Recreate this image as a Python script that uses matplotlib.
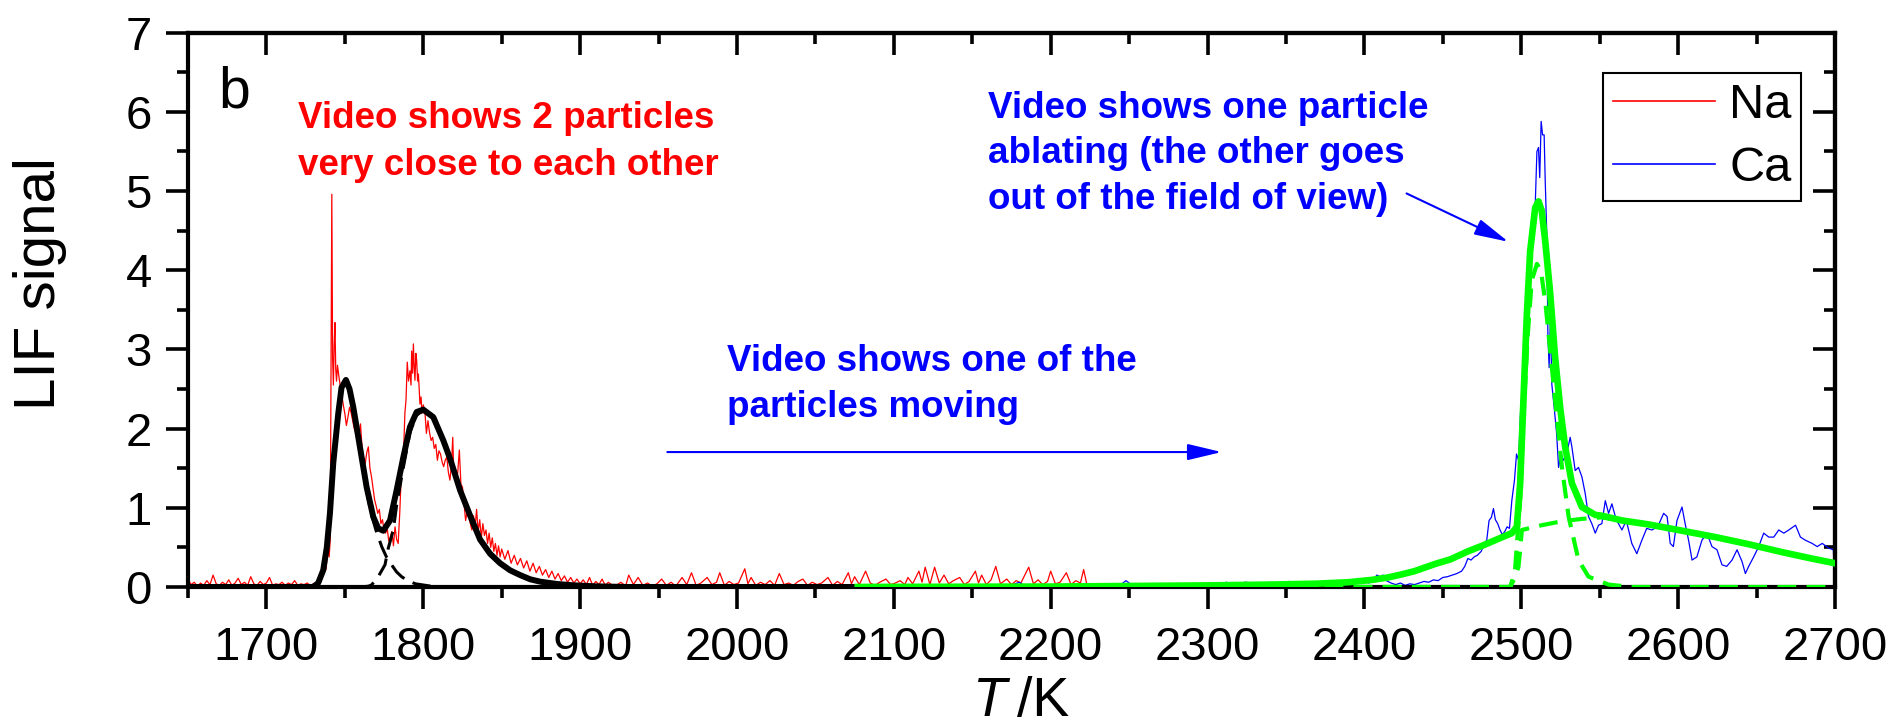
import matplotlib
matplotlib.use("Agg")
import matplotlib.pyplot as plt
from matplotlib.ticker import MultipleLocator, NullFormatter
from matplotlib.patches import FancyArrowPatch, ArrowStyle

plt.rcParams['font.family'] = ['Liberation Sans', 'DejaVu Sans']

# ---------------- Na LIF trace ----------------
na_T = [
    1650, 1652, 1654, 1656, 1658, 1660, 1662, 1664, 1666, 1668, 1670, 1672, 1674, 1676,
    1678, 1680, 1682, 1684, 1686, 1688, 1690, 1692, 1694, 1696, 1698, 1700, 1702, 1704,
    1706, 1708, 1710, 1712, 1714, 1716, 1718, 1720, 1722, 1724, 1726, 1728, 1730, 1732, 1734,
    1735, 1736, 1737, 1738, 1739, 1740, 1740.7, 1741.2, 1741.7, 1742.2, 1742.7, 1743.2,
    1743.7, 1744.2, 1744.7, 1745.3, 1746, 1747, 1748, 1749, 1750, 1751, 1752, 1753, 1754,
    1755, 1756, 1757, 1758, 1759, 1760, 1761, 1762, 1763, 1764, 1765, 1766, 1767, 1768,
    1769, 1770, 1771, 1772, 1773, 1774, 1775, 1776, 1777, 1778, 1779, 1780, 1781, 1782,
    1783, 1784, 1785, 1786, 1787, 1787.7, 1788.3, 1789, 1789.8, 1790.6, 1791.5, 1792.2,
    1792.6, 1793.2, 1793.7, 1794.2, 1794.7, 1795.3, 1795.8, 1796.4, 1796.9, 1797.5, 1797.9,
    1798.6, 1799.2, 1800, 1801, 1802, 1803, 1804, 1805, 1806, 1807, 1808, 1809, 1810, 1811,
    1812, 1813, 1814, 1815, 1816, 1817, 1818, 1818.8, 1819.5, 1820.3, 1821, 1822, 1823,
    1824, 1825, 1826, 1827, 1828, 1829, 1830,
    1831, 1832, 1833, 1834, 1835, 1836, 1837, 1838, 1839, 1840, 1841, 1842, 1843, 1844,
    1845, 1846, 1847, 1848, 1849, 1850, 1852, 1854, 1856, 1858, 1860, 1862, 1864, 1866,
    1868, 1870, 1872, 1874, 1876, 1878, 1880, 1882, 1884, 1886, 1888, 1890, 1892, 1894,
    1896, 1898, 1900, 1902, 1904, 1906, 1908, 1910, 1912, 1914, 1916, 1918, 1920,
    1923, 1926, 1929, 1931, 1934, 1937, 1940, 1943, 1946, 1949, 1952, 1955, 1958, 1961,
    1965, 1968, 1971, 1974, 1977, 1981, 1984, 1987, 1989, 1992, 1995, 1998, 2001, 2005,
    2007, 2009, 2012, 2015, 2018, 2021, 2024, 2027, 2030, 2033, 2036, 2039, 2042, 2045,
    2048, 2051, 2054, 2058, 2061, 2064, 2067, 2071, 2073, 2075, 2078, 2082, 2085, 2088,
    2091, 2095, 2098, 2101, 2104, 2107, 2109, 2112, 2116, 2118, 2120, 2123, 2126, 2129,
    2132, 2135, 2138, 2142, 2145, 2148, 2152, 2154, 2156, 2159, 2162, 2165, 2168, 2172,
    2175, 2178, 2181, 2186, 2189, 2192, 2195, 2198, 2200, 2203, 2206, 2210, 2213, 2216,
    2219, 2221, 2223, 2225,
]
na_lif = [
    0.10, 0.03, 0.06, 0.01, 0.05, 0.02, 0.08, 0.03, 0.15, 0.04, 0.02, 0.06, 0.03, 0.09,
    0.02, 0.05, 0.11, 0.03, 0.06, 0.02, 0.13, 0.04, 0.02, 0.07, 0.03, 0.05, 0.12, 0.02,
    0.04, 0.03, 0.06, 0.02, 0.05, 0.03, 0.08, 0.02, 0.04, 0.03, 0.05, 0.02, 0.04, 0.03, 0.06,
    0.08, 0.15, 0.30, 0.22, 0.45, 0.38, 0.60, 2.80, 4.96, 2.90, 2.55, 3.05,
    3.34, 2.75, 2.60, 2.80, 2.69, 2.55, 2.44, 2.30, 2.19, 2.04, 2.15, 2.27, 2.20,
    2.10, 2.00, 1.94, 1.85, 1.90, 2.06, 1.75, 1.62, 1.56, 1.70, 1.77, 1.50, 1.39, 1.25,
    1.10, 1.02, 0.93, 0.98, 0.80, 0.85, 0.72, 0.68, 0.74, 0.58, 0.63, 0.70, 0.52, 0.76,
    0.60, 0.55, 0.93, 1.43, 1.60, 1.85, 2.20, 2.36, 2.84, 2.60, 2.73, 2.55,
    2.98, 2.70, 3.07, 2.80, 2.61, 2.95, 2.86, 2.60, 2.69, 2.45, 2.31,
    2.40, 2.19, 2.30, 2.23, 1.94, 2.10, 1.95, 1.85, 1.89, 1.75, 1.80, 1.60, 1.72, 1.68,
    1.58, 1.52, 1.60, 1.64, 1.45, 1.35, 1.55, 1.89, 1.40, 1.47, 1.30, 1.45, 1.73,
    1.30, 1.26, 1.05, 0.84, 0.95, 0.93, 0.80,
    0.72, 0.90, 0.75, 0.98, 0.70, 0.85, 0.62, 0.80, 0.65, 0.72, 0.55, 0.68, 0.50, 0.62,
    0.45, 0.55, 0.40, 0.52, 0.38, 0.48, 0.35, 0.46, 0.30, 0.40, 0.28, 0.36, 0.24, 0.33,
    0.20, 0.30, 0.18, 0.26, 0.15, 0.22, 0.12, 0.20, 0.10, 0.17, 0.08, 0.14, 0.06, 0.12,
    0.05, 0.10, 0.04, 0.09, 0.03, 0.12, 0.02, 0.07, 0.03, 0.10, 0.02, 0.06, 0.03,
    0.02, 0.06, 0.01, 0.15, 0.03, 0.12, 0.02, 0.05, 0.01, 0.04, 0.10, 0.02, 0.06, 0.01,
    0.12, 0.03, 0.18, 0.02, 0.05, 0.12, 0.03, 0.06, 0.18, 0.02, 0.07, 0.03, 0.05, 0.23,
    0.04, 0.12, 0.02, 0.06, 0.03, 0.08, 0.02, 0.17, 0.03, 0.05, 0.02, 0.07, 0.10, 0.02,
    0.06, 0.03, 0.05, 0.12, 0.02, 0.07, 0.03, 0.18, 0.04, 0.13, 0.03, 0.20, 0.05, 0.02,
    0.06, 0.10, 0.03, 0.05, 0.08, 0.03, 0.12, 0.04, 0.20, 0.06, 0.25, 0.03, 0.25, 0.05,
    0.15, 0.04, 0.08, 0.12, 0.03, 0.07, 0.20, 0.05, 0.15, 0.03, 0.09, 0.26, 0.04, 0.10,
    0.03, 0.08, 0.05, 0.25, 0.04, 0.09, 0.03, 0.07, 0.20, 0.04, 0.06, 0.18, 0.03, 0.08,
    0.05, 0.22, 0.04, 0.02,
]

# ---------------- Ca LIF trace ----------------
ca_T = [
    2176, 2180, 2184, 2188, 2192, 2196, 2200, 2204, 2208, 2212, 2216, 2220, 2224, 2228,
    2232, 2236, 2240, 2244, 2248, 2252, 2256, 2260, 2264, 2268, 2272, 2276, 2280, 2284,
    2288, 2292, 2296, 2300, 2304, 2308, 2312, 2316, 2320, 2324, 2328, 2332, 2336, 2340,
    2344, 2348, 2352, 2356, 2360, 2364, 2368, 2372, 2376, 2380, 2384, 2388, 2392, 2396,
    2400, 2403, 2406, 2408, 2410, 2412, 2414, 2417, 2420, 2423, 2426, 2429, 2432, 2435,
    2438, 2441, 2444, 2447, 2450, 2453, 2456, 2459, 2462, 2464, 2466, 2468, 2470, 2472,
    2474.5, 2476.5, 2478, 2479.5, 2481, 2482.3, 2483.5, 2485, 2486.5, 2488, 2489.5, 2491,
    2492.5, 2494, 2495.7, 2497, 2498.3, 2499.7, 2501, 2502.5, 2504, 2506, 2508, 2509, 2510,
    2511, 2511.8, 2512.7, 2513.6, 2514.6, 2515.3, 2516.3, 2517, 2517.8, 2518.6, 2519.5,
    2521, 2522.6, 2523.8, 2525.4, 2527, 2529, 2531.2, 2532.3, 2534.4, 2536.5, 2538.7,
    2540.8, 2542.9, 2545, 2547.2, 2549.3, 2551.4, 2553.6, 2555.7, 2557.8, 2560, 2562,
    2564.2, 2567, 2570.5, 2573.7, 2576.9, 2580, 2583.3, 2587, 2590.8, 2593, 2595, 2597,
    2599.3, 2602.5, 2604.5, 2606.7, 2608.9, 2612, 2615.2, 2618.4, 2621.6, 2624.8, 2628,
    2631, 2634.4, 2637.6, 2640.8, 2642.9, 2645, 2648.2, 2651.4, 2654.6, 2657.8, 2661,
    2664.2, 2667.4, 2670.6, 2674.9, 2678, 2681.2, 2685.5, 2688.7, 2691.9, 2696.1, 2699,
    2700,
]
ca_lif = [
    0.03, 0.06, 0.01, 0.02, 0.00, 0.01, 0.02, 0.00, 0.03, 0.01, 0.00, 0.02, 0.01, 0.00,
    0.02, 0.03, 0.01, 0.02, 0.08, 0.02, 0.01, 0.03, 0.02, 0.01, 0.02, 0.00, 0.01, 0.02,
    0.01, 0.03, 0.02, 0.05, 0.03, 0.02, 0.06, 0.03, 0.04, 0.06, 0.05, 0.02, 0.04, 0.06,
    0.03, 0.04, 0.07, 0.03, 0.05, 0.06, 0.04, 0.05, 0.06, 0.07, 0.05, 0.06, 0.08, 0.06,
    0.07, 0.05, 0.10, 0.15, 0.13, 0.15, 0.08, 0.05, 0.03, 0.05, 0.02, 0.04, 0.03, 0.05,
    0.07, 0.06, 0.09, 0.08, 0.12, 0.13, 0.15, 0.17, 0.20, 0.26, 0.36, 0.34, 0.38, 0.40,
    0.45, 0.55, 0.59, 0.84, 0.88, 0.99, 0.85, 0.80, 0.72, 0.66, 0.70, 0.76,
    0.74, 1.09, 1.35, 1.68, 1.60, 2.27, 2.52, 2.69, 3.19, 3.95, 4.60, 4.87, 5.50,
    5.55, 5.17, 5.88, 5.71, 5.71, 5.13, 4.45, 3.19, 2.77, 3.40, 2.56,
    2.27, 1.93, 1.51, 1.68, 1.60, 1.68, 1.89, 1.77, 1.47, 1.51, 1.39,
    1.18, 0.89, 0.80, 0.68, 0.78, 0.80, 1.09, 0.93, 1.05, 0.89, 0.80,
    0.72, 0.84, 0.55, 0.42, 0.59, 0.74, 0.72, 0.76, 0.93, 0.89, 0.55, 0.51,
    0.84, 1.01, 0.80, 0.59, 0.34, 0.38, 0.59, 0.68, 0.51, 0.47, 0.28,
    0.26, 0.34, 0.47, 0.32, 0.17, 0.26, 0.38, 0.51, 0.68, 0.63, 0.63,
    0.72, 0.68, 0.72, 0.78, 0.63, 0.59, 0.55, 0.51, 0.55, 0.49, 0.47,
    0.00,
]

# ---------------- Na two-peak fit (sum and components) ----------------
na_fit_T = [1650, 1725, 1729.8, 1733, 1736.2, 1738.5, 1740.5, 1742.6, 1745.8, 1747.9,
            1750.7, 1753, 1755.4, 1759.6, 1763.9, 1768.1, 1771.3, 1774.5, 1778.8, 1783,
            1787.3, 1791.5, 1795.8, 1800, 1806.4, 1812.8, 1817.1, 1823.5, 1829.9, 1836.2,
            1842.6, 1849, 1855.4, 1861.8, 1868.2, 1874.6, 1885.2, 1895.8, 1910, 1930, 2077]
na_fit = [0.0, 0.0, 0.0, 0.05, 0.21, 0.50, 0.93, 1.56, 2.19, 2.52,
          2.615, 2.50, 2.27, 1.77, 1.26, 0.887, 0.74, 0.71, 0.84, 1.22,
          1.64, 2.02, 2.21, 2.24, 2.145, 1.85, 1.62, 1.22, 0.90, 0.60,
          0.42, 0.30, 0.21, 0.15, 0.097, 0.067, 0.038, 0.021, 0.008, 0.0, 0.0]

na_peak1_T = [1725, 1729.8, 1733, 1736.2, 1738.5, 1740.5, 1742.6, 1745.8, 1747.9, 1750.7,
              1753, 1755.4, 1759.6, 1763.9, 1766.5, 1769.8, 1773.5, 1776.5, 1779.8, 1783,
              1786.2, 1790, 1795, 1805, 1820, 2077]
na_peak1 = [0.0, 0.0, 0.05, 0.21, 0.50, 0.93, 1.56, 2.19, 2.52, 2.615,
            2.50, 2.27, 1.77, 1.22, 0.95, 0.72, 0.51, 0.38, 0.28, 0.19,
            0.13, 0.08, 0.04, 0.01, 0.0, 0.0]

na_peak2_T = [1740, 1760, 1765, 1767, 1771, 1775.6, 1777.7, 1780.9, 1783, 1787.3,
              1791.5, 1795.8, 1800, 1806.4, 1812.8, 1817.1, 1823.5, 1829.9, 1836.2, 1842.6,
              1849, 1855.4, 1861.8, 1868.2, 1874.6, 1885.2, 1895.8, 1910, 1930, 2077]
na_peak2 = [0.0, 0.0, 0.01, 0.025, 0.12, 0.28, 0.49, 0.72, 1.03, 1.51,
            1.95, 2.17, 2.23, 2.145, 1.85, 1.62, 1.22, 0.90, 0.60, 0.42,
            0.30, 0.21, 0.15, 0.097, 0.067, 0.038, 0.021, 0.008, 0.0, 0.0]

# ---------------- Ca fit (sum and components) ----------------
ca_fit_T = [2077, 2200, 2300, 2340, 2370, 2390, 2405, 2415, 2424, 2432, 2445, 2455, 2466,
            2475, 2488, 2494, 2497.2, 2499.3, 2501.4, 2503.5, 2505.7, 2508.9, 2511, 2513.1,
            2515.3, 2518.5, 2521.6, 2524.8, 2528, 2532.3, 2538.7, 2547.2, 2551.4, 2564.2,
            2581.2, 2600, 2623.8, 2645, 2666.3, 2685, 2700]
ca_fit = [0.0, 0.005, 0.02, 0.03, 0.042, 0.06, 0.09, 0.12, 0.16, 0.20, 0.29, 0.35, 0.45,
          0.52, 0.63, 0.68, 0.76, 1.30, 2.35, 3.40, 4.24, 4.79, 4.87, 4.75,
          4.37, 3.70, 2.90, 2.27, 1.77, 1.31, 1.01, 0.91, 0.90, 0.84,
          0.79, 0.72, 0.63, 0.54, 0.44, 0.36, 0.30]

ca_narrow_T = [2077, 2493, 2496, 2499.3, 2501.4, 2504.2, 2506.7, 2510, 2512.5, 2515.3,
               2518.5, 2521.6, 2525.9, 2530.2, 2536.5, 2542.9, 2555.7, 2570, 2700]
ca_narrow = [0.0, 0.0, 0.2, 1.10, 2.15, 3.19, 3.87, 4.08, 4.00, 3.61,
             2.98, 2.36, 1.52, 0.89, 0.34, 0.13, 0.03, 0.0, 0.0]

ca_broad_T = [2077, 2493, 2496, 2498.2, 2499.5, 2500.4, 2513, 2526, 2538.7, 2551.4,
              2564.2, 2581.2, 2600, 2623.8, 2645, 2666.3, 2685, 2700]
ca_broad = [0.0, 0.0, 0.12, 0.25, 0.50, 0.72, 0.78, 0.83, 0.86, 0.88,
            0.84, 0.79, 0.72, 0.63, 0.54, 0.44, 0.36, 0.30]

x_major_ticks = [1700, 1800, 1900, 2000, 2100, 2200, 2300, 2400, 2500, 2600, 2700]
y_major_ticks = [0, 1, 2, 3, 4, 5, 6, 7]

RED = '#ff0000'
BLUE = '#0000ff'
GREEN = '#00ff00'

fig = plt.figure(figsize=(18.95, 7.27), dpi=100)
ax = fig.add_axes([0.0992, 0.1926, 0.8691, 0.7624])

na_line, = ax.plot(na_T, na_lif, color=RED, lw=0.9, label='Na', zorder=2)
ca_line, = ax.plot(ca_T, ca_lif, color=BLUE, lw=0.9, label='Ca', zorder=2)

ax.plot(na_peak1_T, na_peak1, color='k', lw=2.2, dashes=(6, 3), zorder=3)
ax.plot(na_peak2_T, na_peak2, color='k', lw=2.2, dashes=(6, 3), zorder=3)
ax.plot(na_fit_T, na_fit, color='k', lw=4.3, zorder=4, solid_joinstyle='round')

ax.plot(ca_fit_T, ca_fit, color=GREEN, lw=4.8, zorder=4, solid_joinstyle='round')
ax.plot(ca_narrow_T, ca_narrow, color=GREEN, lw=3.0, dashes=(4.5, 2.5), zorder=5)
ax.plot(ca_broad_T, ca_broad, color=GREEN, lw=3.0, dashes=(4.5, 2.5), zorder=5)

ax.set_xlim(1650, 2700)
ax.set_ylim(0, 7)

ax.set_xticks(x_major_ticks)
ax.set_yticks(y_major_ticks)
ax.xaxis.set_minor_locator(MultipleLocator(50))
ax.yaxis.set_minor_locator(MultipleLocator(0.5))
ax.tick_params(which='major', direction='out', length=16, width=2.6, labelsize=34, pad=12)
ax.tick_params(which='minor', direction='out', length=8, width=2.6)
ax.tick_params(axis='y', which='major', pad=10)
for sp in ax.spines.values():
    sp.set_linewidth(3)

# mirrored inward ticks on top and right
secx = ax.secondary_xaxis('top')
secx.set_xticks(x_major_ticks)
secx.xaxis.set_minor_locator(MultipleLocator(50))
secx.xaxis.set_major_formatter(NullFormatter())
secx.tick_params(which='major', direction='in', length=16, width=2.6)
secx.tick_params(which='minor', direction='in', length=8, width=2.6)
secx.spines['top'].set_linewidth(3)

secy = ax.secondary_yaxis('right')
secy.set_yticks(y_major_ticks)
secy.yaxis.set_minor_locator(MultipleLocator(0.5))
secy.yaxis.set_major_formatter(NullFormatter())
secy.tick_params(which='major', direction='in', length=16, width=2.6)
secy.tick_params(which='minor', direction='in', length=8, width=2.6)
secy.spines['right'].set_linewidth(3)

# axis titles
fig.text(40 / 1895, 1 - 284 / 727, 'LIF signal', rotation=90, ha='center', va='center',
         fontsize=42)
fig.text(1006 / 1895, 1 - 716 / 727, 'T', fontstyle='italic', ha='right', va='baseline',
         fontsize=40)
fig.text(1017 / 1895, 1 - 716 / 727, '/K', ha='left', va='baseline', fontsize=40)

# panel letter
ax.text(1669.5, 6.05, 'b', fontsize=41, va='baseline', ha='left')

# annotations
bold = dict(fontsize=26.5, fontweight='bold', va='baseline', ha='left')
ax.text(1720.2, 5.793, 'Video shows 2 particles', color=RED, **bold)
ax.text(1720.2, 5.20, 'very close to each other', color=RED, **bold)

ax.text(1993.7, 2.733, 'Video shows one of the', color=BLUE, **bold)
ax.text(1993.7, 2.145, 'particles moving', color=BLUE, **bold)

ax.text(2160.1, 5.923, 'Video shows one particle', color=BLUE, **bold)
ax.text(2160.1, 5.357, 'ablating (the other goes', color=BLUE, **bold)
ax.text(2160.1, 4.77, 'out of the field of view)', color=BLUE, **bold)

head = ArrowStyle('-|>', head_length=1.05, head_width=0.25)
ax.add_patch(FancyArrowPatch((1955.6, 1.704), (2309, 1.704), arrowstyle=head,
                             mutation_scale=20, color=BLUE, lw=1.5,
                             shrinkA=0, shrinkB=0, zorder=6))
ax.add_patch(FancyArrowPatch((2426.9, 4.97), (2491.8, 4.36), arrowstyle=head,
                             mutation_scale=20, color=BLUE, lw=1.5,
                             shrinkA=0, shrinkB=0, zorder=6))

leg = ax.legend(handles=[na_line, ca_line], loc='upper left',
                bbox_to_anchor=(1603 / 1895, 1 - 73 / 727), bbox_transform=fig.transFigure,
                fontsize=35, frameon=True, fancybox=False, framealpha=1,
                edgecolor='black', borderpad=0.2, labelspacing=0.38,
                handlelength=2.1, handletextpad=0.3, borderaxespad=0)
leg.get_frame().set_linewidth(1.5)
for h in leg.get_lines():
    h.set_linewidth(1.2)

fig.savefig('out.png', dpi=100)
